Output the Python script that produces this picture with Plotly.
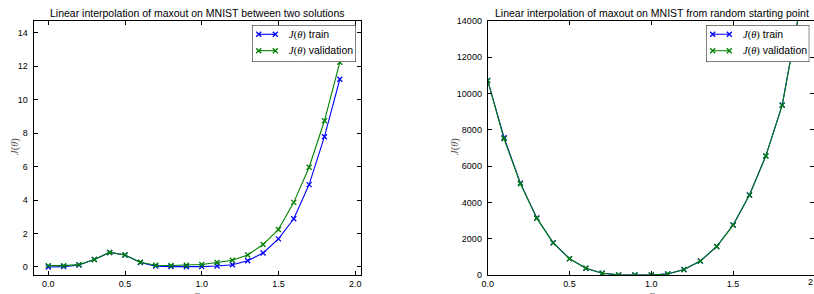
import plotly.graph_objects as go

alpha = [0.0, 0.1, 0.2, 0.3, 0.4, 0.5, 0.6, 0.7, 0.8, 0.9, 1.0, 1.1, 1.2, 1.3, 1.4, 1.5, 1.6, 1.7, 1.8, 1.9]

# Left: between two solutions
sol_train = [0.0, 0.02, 0.12, 0.45, 0.87, 0.72, 0.27, 0.05, 0.02, 0.01, 0.02, 0.06, 0.13, 0.37, 0.84, 1.68, 2.88, 4.92, 7.78, 11.21]
sol_valid = [0.08, 0.08, 0.14, 0.45, 0.87, 0.72, 0.28, 0.10, 0.09, 0.10, 0.15, 0.27, 0.40, 0.72, 1.34, 2.24, 3.86, 5.96, 8.73, 12.22]

# Right: from random starting point
rnd_train = [10720, 7560, 5060, 3140, 1780, 900, 375, 95, 5, 0, 0, 60, 300, 770, 1570, 2750, 4410, 6560, 9360, 14300]
rnd_valid = [10700, 7500, 5030, 3130, 1770, 895, 372, 93, 5, 0, 0, 58, 298, 766, 1565, 2745, 4400, 6550, 9340, 14250]

series_names = ["train", "validation"]
left_yticks = [0, 2, 4, 6, 8, 10, 12, 14]
left_xticks = [0.0, 0.5, 1.0, 1.5, 2.0]
right_yticks = [0, 2000, 4000, 6000, 8000, 10000, 12000, 14000]
right_xticks = [0.0, 0.5, 1.0, 1.5]

BLUE = "#0000ff"
GREEN = "#008000"
COLORS = [BLUE, GREEN]
FONT = "Liberation Sans"
MATH = "Liberation Serif"

W, H = 814, 294
fig = go.Figure()

def jtheta():
    return f'<span style="font-family:{MATH}"><i>J</i>(<i>θ</i>)</span>'

def marker(color):
    return dict(symbol="x-thin", size=5, line=dict(color=color, width=1.3), color=color)

def add(x, y, color, xa, ya):
    fig.add_trace(go.Scatter(
        x=x, y=y, mode="lines+markers", showlegend=False,
        line=dict(color=color, width=1.1), marker=marker(color),
        xaxis=xa, yaxis=ya, cliponaxis=True))

add(alpha, sol_train, BLUE, "x", "y")
add(alpha, sol_valid, GREEN, "x", "y")
add(alpha, rnd_train, BLUE, "x2", "y2")
add(alpha, rnd_valid, GREEN, "x2", "y2")

ydom = [19 / H, (H - 20.8) / H]
axcommon = dict(showgrid=False, zeroline=False, showline=True, linecolor="black", linewidth=1,
                mirror="ticks", ticks="inside", ticklen=4, tickcolor="black", tickwidth=1,
                tickfont=dict(family=FONT, size=9, color="black"), automargin=False)

# Legend boxes (pixel frames), drawn on hidden helper axes
LEG_TOP, LEG_BOT = 25, 62
legends = [(252, 356, "x3", "y3"), (706, 809.3, "x4", "y4")]
hidden = dict(visible=False, showgrid=False, zeroline=False, fixedrange=True)

layout_axes = {}
for (l, r, xa, ya) in legends:
    xn = "xaxis" + xa[1:]
    yn = "yaxis" + ya[1:]
    layout_axes[xn] = dict(domain=[l / W, r / W], range=[l, r], anchor=ya, **hidden)
    layout_axes[yn] = dict(domain=[(H - LEG_BOT) / H, (H - LEG_TOP) / H], range=[LEG_BOT, LEG_TOP],
                           anchor=xa, **hidden)

fig.update_layout(
    width=W, height=H, margin=dict(l=0, r=0, t=0, b=0),
    paper_bgcolor="white", plot_bgcolor="rgba(0,0,0,0)", showlegend=False,
    xaxis=dict(domain=[33.5 / W, 360.5 / W], range=[-0.0965, 2.035], tickvals=left_xticks,
               ticktext=[f"{v:.1f}" for v in left_xticks], anchor="y", **axcommon),
    yaxis=dict(domain=ydom, range=[-0.478, 14.70], tickvals=left_yticks,
               ticktext=[str(v) for v in left_yticks], anchor="x", ticklabelstandoff=3, **axcommon),
    xaxis2=dict(domain=[487.7 / W, 1.0], range=[0, (W - 487.7) / 163.6], tickvals=right_xticks,
                ticktext=[f"{v:.1f}" for v in right_xticks], anchor="y2", **axcommon),
    yaxis2=dict(domain=ydom, range=[0, 14000], tickvals=right_yticks,
                ticktext=[str(v) for v in right_yticks], anchor="x2", ticklabelstandoff=3, **axcommon),
    **layout_axes,
)

for (l, r, xa, ya) in legends:
    fig.add_shape(type="rect", xref=xa, yref=ya, x0=l, x1=r, y0=LEG_TOP, y1=LEG_BOT,
                  line=dict(color="black", width=1), fillcolor="white", layer="below")
    for i, (name, col) in enumerate(zip(series_names, COLORS)):
        yy = 34.3 + i * 16.4
        fig.add_trace(go.Scatter(x=[l + 6.7, l + 23.3], y=[yy, yy], mode="lines+markers",
                                 line=dict(color=col, width=1.1), marker=marker(col),
                                 xaxis=xa, yaxis=ya, showlegend=False, hoverinfo="skip",
                                 cliponaxis=False))
        fig.add_annotation(xref=xa, yref=ya, x=l + 34.5, y=yy, xanchor="left", yanchor="middle",
                           showarrow=False, text=f"{jtheta()} {name}",
                           font=dict(family=FONT, size=10.5, color="black"))

ann = [
    dict(text="Linear interpolation of maxout on MNIST between two solutions", x=197 / W, y=(H - 13) / H,
         font=dict(family=FONT, size=10.5, color="black")),
    dict(text="Linear interpolation of maxout on MNIST from random starting point", x=651.7 / W, y=(H - 13) / H,
         font=dict(family=FONT, size=10.5, color="black")),
    dict(text=jtheta(), x=15 / W, y=(H - 147) / H,
         textangle=-90, font=dict(family=MATH, size=10.5, color="#555")),
    dict(text=jtheta(), x=455 / W, y=(H - 147) / H,
         textangle=-90, font=dict(family=MATH, size=10.5, color="#555")),
    dict(text="<i>α</i>", x=197 / W, y=(H - 294) / H,
         font=dict(family=MATH, size=10.5, color="#555")),
    dict(text="<i>α</i>", x=651.7 / W, y=(H - 294) / H,
         font=dict(family=MATH, size=10.5, color="#555")),
    dict(text="2.0", x=815 / W, y=(H - 282) / H,
         font=dict(family=FONT, size=9, color="black")),
]
for a in ann:
    a.setdefault("xanchor", "center")
    a.setdefault("yanchor", "middle")
    fig.add_annotation(xref="paper", yref="paper", showarrow=False, **a)

fig.write_html("out.html", config={"displayModeBar": False},
               post_script="document.body.style.margin='0';document.body.style.overflow='hidden';")
